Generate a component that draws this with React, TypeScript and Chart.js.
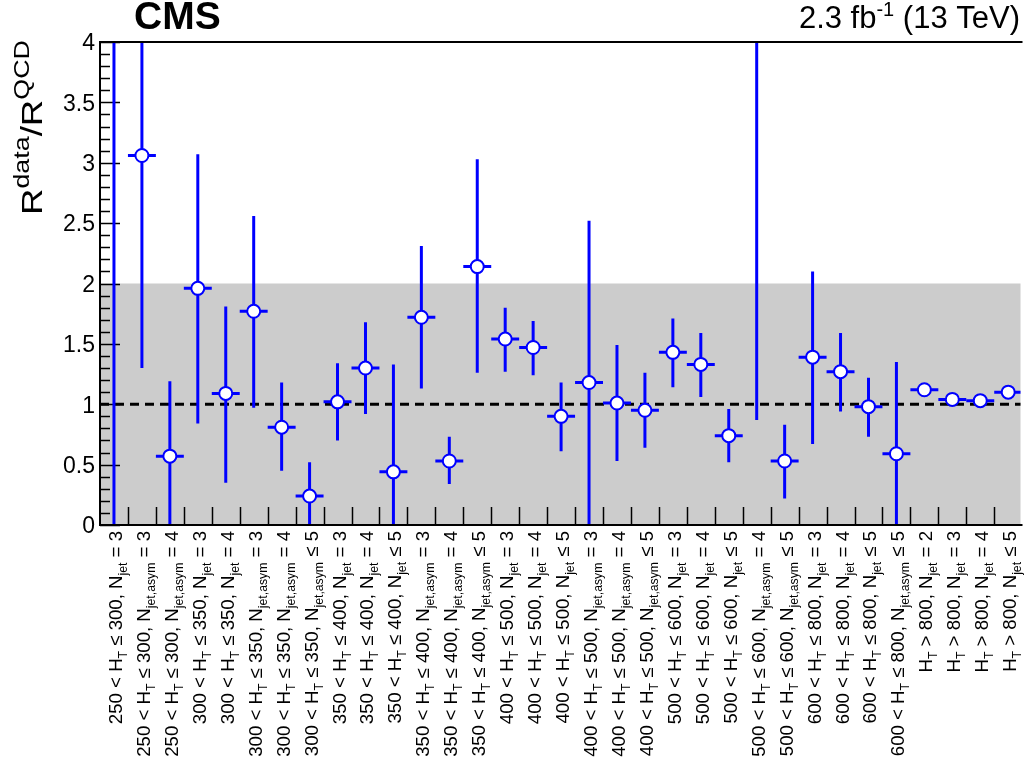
import React, { useEffect, useRef } from "react";
import { Chart, registerables } from "chart.js";

Chart.register(...registerables);

// ---------------- data ----------------
const categories: string[] = [
  "250 < H_{T} ≤ 300, N_{jet} = 3",
  "250 < H_{T} ≤ 300, N_{jet,asym} = 3",
  "250 < H_{T} ≤ 300, N_{jet,asym} = 4",
  "300 < H_{T} ≤ 350, N_{jet} = 3",
  "300 < H_{T} ≤ 350, N_{jet} = 4",
  "300 < H_{T} ≤ 350, N_{jet,asym} = 3",
  "300 < H_{T} ≤ 350, N_{jet,asym} = 4",
  "300 < H_{T} ≤ 350, N_{jet,asym} ≤ 5",
  "350 < H_{T} ≤ 400, N_{jet} = 3",
  "350 < H_{T} ≤ 400, N_{jet} = 4",
  "350 < H_{T} ≤ 400, N_{jet} ≤ 5",
  "350 < H_{T} ≤ 400, N_{jet,asym} = 3",
  "350 < H_{T} ≤ 400, N_{jet,asym} = 4",
  "350 < H_{T} ≤ 400, N_{jet,asym} ≤ 5",
  "400 < H_{T} ≤ 500, N_{jet} = 3",
  "400 < H_{T} ≤ 500, N_{jet} = 4",
  "400 < H_{T} ≤ 500, N_{jet} ≤ 5",
  "400 < H_{T} ≤ 500, N_{jet,asym} = 3",
  "400 < H_{T} ≤ 500, N_{jet,asym} = 4",
  "400 < H_{T} ≤ 500, N_{jet,asym} ≤ 5",
  "500 < H_{T} ≤ 600, N_{jet} = 3",
  "500 < H_{T} ≤ 600, N_{jet} = 4",
  "500 < H_{T} ≤ 600, N_{jet} ≤ 5",
  "500 < H_{T} ≤ 600, N_{jet,asym} = 4",
  "500 < H_{T} ≤ 600, N_{jet,asym} ≤ 5",
  "600 < H_{T} ≤ 800, N_{jet} = 3",
  "600 < H_{T} ≤ 800, N_{jet} = 4",
  "600 < H_{T} ≤ 800, N_{jet} ≤ 5",
  "600 < H_{T} ≤ 800, N_{jet,asym} ≤ 5",
  "H_{T} > 800, N_{jet} = 2",
  "H_{T} > 800, N_{jet} = 3",
  "H_{T} > 800, N_{jet} = 4",
  "H_{T} > 800, N_{jet} ≤ 5",
];

// central values R^data / R^QCD (bins 1 and 24 lie above the plotted range)
const ratioValues: number[] = [
  4.6, 3.06, 0.57, 1.96, 1.09, 1.77, 0.81, 0.24, 1.02, 1.30, 0.44,
  1.72, 0.53, 2.14, 1.54, 1.47, 0.90, 1.18, 1.01, 0.95, 1.43, 1.33,
  0.74, 4.6, 0.53, 1.39, 1.27, 0.98, 0.59, 1.12, 1.04, 1.03, 1.10,
];
// lower edges of the error bars
const errLower: number[] = [
  0.0, 1.30, 0.0, 0.84, 0.35, 0.97, 0.45, 0.0, 0.70, 0.92, 0.0,
  1.13, 0.34, 1.26, 1.27, 1.24, 0.61, 0.0, 0.53, 0.64, 1.14, 1.06,
  0.52, 0.87, 0.22, 0.67, 0.94, 0.73, 0.0, 1.10, 1.02, 1.01, 1.08,
];
// upper edges of the error bars
const errUpper: number[] = [
  9.0, 4.8, 1.19, 3.07, 1.81, 2.56, 1.18, 0.52, 1.34, 1.68, 1.33,
  2.31, 0.73, 3.03, 1.80, 1.69, 1.18, 2.52, 1.49, 1.26, 1.71, 1.59,
  0.96, 9.0, 0.83, 2.10, 1.59, 1.22, 1.35, 1.14, 1.06, 1.05, 1.12,
];

const yTickLabels: string[] = ["0", "0.5", "1", "1.5", "2", "2.5", "3", "3.5", "4"];
const yTickValues: number[] = [0, 0.5, 1, 1.5, 2, 2.5, 3, 3.5, 4];
const bandRange: number[] = [0, 2];
const referenceLine = 1;

const Y_MIN = 0;
const Y_MAX = 4;
const X_MAX = 32.94;

const FONT = "'Liberation Sans', Arial, Helvetica, sans-serif";
const BLUE = "#0000ff";

type Seg = { t: string; sub: boolean };
function parseRich(s: string): Seg[] {
  const out: Seg[] = [];
  const re = /_\{([^}]*)\}/g;
  let last = 0;
  let m: RegExpExecArray | null;
  while ((m = re.exec(s))) {
    if (m.index > last) out.push({ t: s.slice(last, m.index), sub: false });
    out.push({ t: m[1], sub: true });
    last = re.lastIndex;
  }
  if (last < s.length) out.push({ t: s.slice(last), sub: false });
  return out;
}

const rootPlugin = {
  id: "rootStyle",
  beforeDatasetsDraw(chart: any) {
    const { ctx, chartArea: a, scales } = chart;
    const x = scales.x;
    const y = scales.y;
    ctx.save();
    // grey band
    const yb1 = y.getPixelForValue(bandRange[1]);
    const yb0 = y.getPixelForValue(bandRange[0]);
    ctx.fillStyle = "#cccccc";
    ctx.fillRect(a.left, yb1, a.right - a.left, yb0 - yb1);

    // dashed reference line
    const yr = y.getPixelForValue(referenceLine);
    ctx.strokeStyle = "#000000";
    ctx.lineWidth = 3;
    ctx.setLineDash([9, 6]);
    ctx.beginPath();
    ctx.moveTo(a.left, yr);
    ctx.lineTo(a.right, yr);
    ctx.stroke();
    ctx.setLineDash([]);

    // ticks (inward, ROOT style)
    ctx.lineWidth = 1.5;
    ctx.strokeStyle = "#000000";
    ctx.beginPath();
    for (let k = 0; k <= 40; k++) {
      const v = k / 10;
      const py = Math.round(y.getPixelForValue(v)) + 0.5;
      const len = k % 5 === 0 ? 20 : 10;
      ctx.moveTo(a.left, py);
      ctx.lineTo(a.left + len, py);
    }
    for (let k = 1; k <= categories.length; k++) {
      const px = x.getPixelForValue(k);
      if (px > a.right) break;
      const rx = Math.round(px) + 0.5;
      ctx.moveTo(rx, a.bottom);
      ctx.lineTo(rx, a.bottom - 18);
    }
    ctx.stroke();

    // error bars
    ctx.beginPath();
    ctx.rect(a.left, a.top, a.right - a.left, a.bottom - a.top);
    ctx.clip();
    ctx.strokeStyle = BLUE;
    ctx.lineWidth = 3;
    ratioValues.forEach((v, i) => {
      const xc = x.getPixelForValue(i + 0.5);
      const xl = x.getPixelForValue(i);
      const xr = x.getPixelForValue(i + 1);
      const yv = y.getPixelForValue(v);
      ctx.beginPath();
      ctx.moveTo(xc, y.getPixelForValue(errLower[i]));
      ctx.lineTo(xc, y.getPixelForValue(errUpper[i]));
      ctx.moveTo(xl, yv);
      ctx.lineTo(xr, yv);
      ctx.stroke();
    });
    ctx.restore();
  },
  afterDatasetsDraw(chart: any) {
    const { ctx, chartArea: a, scales } = chart;
    const x = scales.x;
    const y = scales.y;
    ctx.save();
    // frame
    ctx.strokeStyle = "#000000";
    ctx.lineWidth = 2;
    ctx.beginPath();
    ctx.moveTo(a.right + 2, a.top);
    ctx.lineTo(a.left, a.top);
    ctx.lineTo(a.left, a.bottom);
    ctx.lineTo(a.right + 2, a.bottom);
    ctx.stroke();

    // y tick labels
    ctx.fillStyle = "#000000";
    ctx.font = `23px ${FONT}`;
    ctx.textAlign = "right";
    ctx.textBaseline = "middle";
    yTickValues.forEach((v, i) => {
      ctx.fillText(yTickLabels[i], a.left - 5, y.getPixelForValue(v) + 2);
    });

    // x labels (rotated, with subscripts)
    ctx.textAlign = "left";
    ctx.textBaseline = "alphabetic";
    const mainF = `19px ${FONT}`;
    const subF = `12.5px ${FONT}`;
    categories.forEach((lab, i) => {
      const segs = parseRich(lab);
      let total = 0;
      segs.forEach((s) => {
        ctx.font = s.sub ? subF : mainF;
        total += ctx.measureText(s.t).width;
      });
      const xc = x.getPixelForValue(i + 0.5);
      ctx.save();
      ctx.translate(xc + 8, a.bottom + 6);
      ctx.rotate(-Math.PI / 2);
      ctx.scale(0.98, 1);
      let cx = -total;
      segs.forEach((s) => {
        ctx.font = s.sub ? subF : mainF;
        ctx.fillText(s.t, cx, s.sub ? 5 : 0);
        cx += ctx.measureText(s.t).width;
      });
      ctx.restore();
    });

    // y axis title
    ctx.save();
    ctx.translate(42, 215);
    ctx.rotate(-Math.PI / 2);
    ctx.scale(1.22, 1);
    const tsegs: { t: string; sup: boolean }[] = [
      { t: "R", sup: false },
      { t: "data", sup: true },
      { t: "/R", sup: false },
      { t: "QCD", sup: true },
    ];
    let tx = 0;
    tsegs.forEach((s) => {
      ctx.font = s.sup ? `22px ${FONT}` : `30px ${FONT}`;
      ctx.fillText(s.t, tx, s.sup ? -13 : 0);
      tx += ctx.measureText(s.t).width;
    });
    ctx.restore();

    // CMS label
    ctx.font = `bold 39px ${FONT}`;
    ctx.textAlign = "left";
    ctx.fillText("CMS", 134, 29);

    // luminosity label
    const lsegs: { t: string; sup: boolean }[] = [
      { t: "2.3 fb", sup: false },
      { t: "-1", sup: true },
      { t: " (13 TeV)", sup: false },
    ];
    let lw = 0;
    lsegs.forEach((s) => {
      ctx.font = s.sup ? `20px ${FONT}` : `31px ${FONT}`;
      lw += ctx.measureText(s.t).width;
    });
    let lx = 1020 - lw;
    lsegs.forEach((s) => {
      ctx.font = s.sup ? `20px ${FONT}` : `31px ${FONT}`;
      ctx.fillText(s.t, lx, s.sup ? 16 : 28);
      lx += ctx.measureText(s.t).width;
    });
    ctx.restore();
  },
};

export default function App() {
  const ref = useRef<HTMLCanvasElement>(null);
  useEffect(() => {
    document.body.style.margin = "0";
    const canvas = ref.current!;
    const chart = new Chart(canvas, {
      type: "scatter",
      data: {
        datasets: [
          {
            label: "R data / R QCD",
            data: ratioValues.map((v, i) => ({ x: i + 0.5, y: v })),
            pointRadius: 6.5,
            pointHoverRadius: 6.5,
            pointBackgroundColor: "#ffffff",
            pointBorderColor: BLUE,
            pointBorderWidth: 2,
            showLine: false,
          },
        ],
      },
      options: {
        responsive: false,
        animation: false,
        devicePixelRatio: 1,
        events: [],
        layout: { padding: { left: 100, top: 42, right: 0, bottom: 233 } },
        plugins: { legend: { display: false }, tooltip: { enabled: false } },
        scales: {
          x: { type: "linear", min: 0, max: X_MAX, display: false },
          y: { type: "linear", min: Y_MIN, max: Y_MAX, display: false },
        },
      },
      plugins: [rootPlugin],
    } as any);
    return () => chart.destroy();
  }, []);
  return <canvas ref={ref} width={1029} height={758} style={{ display: "block" }} />;
}
